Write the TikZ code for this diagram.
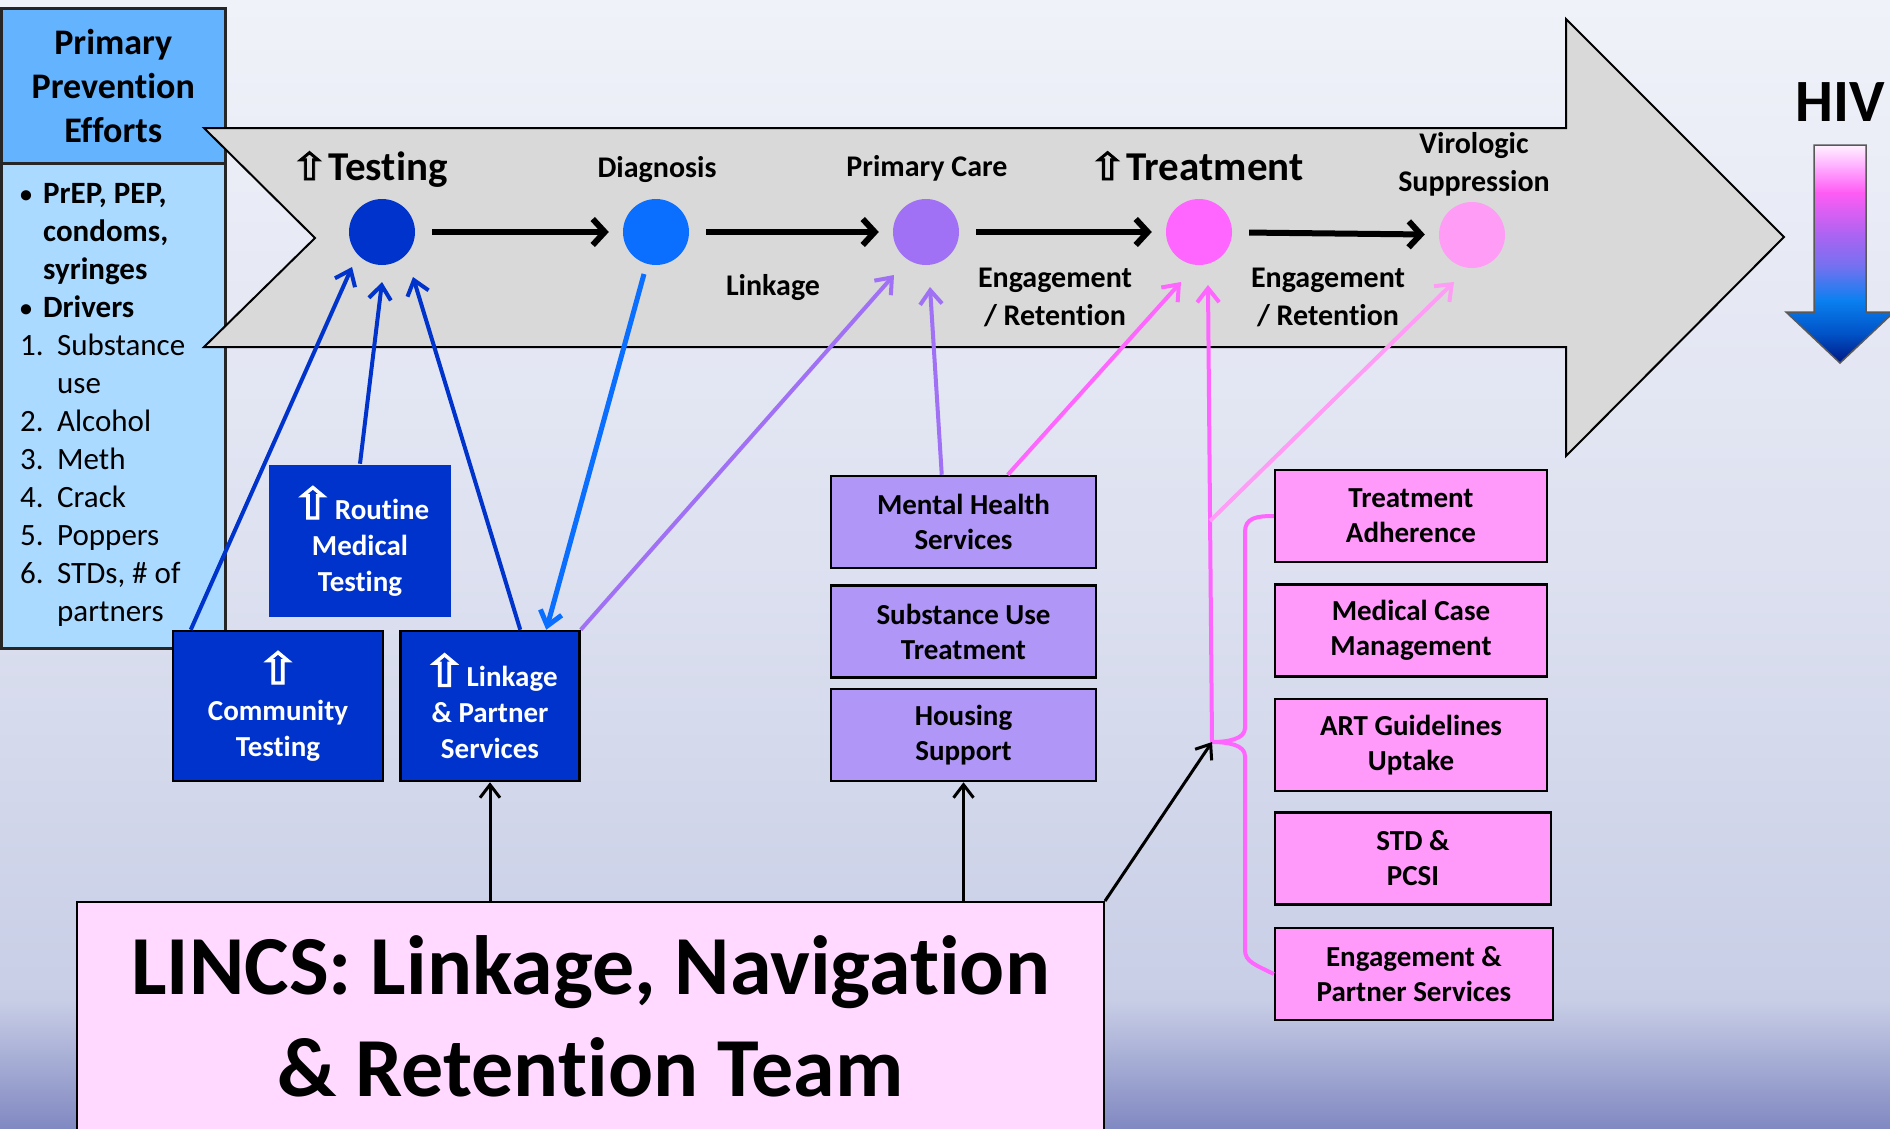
\documentclass[tikz,border=0pt]{standalone}
\usepackage{fontspec}
\setmainfont{Carlito}[Ligatures=CommonOff]
\newfontfamily\lcSymFont{DejaVu Sans}[FakeBold=2.5, FakeStretch=1.2]
\usepackage{tikz}
\usetikzlibrary{
  arrows.meta,
  positioning,
  calc
}
\definecolor{lcTest}{HTML}{0033CC}
\definecolor{lcDiag}{HTML}{0A6EFF}
\definecolor{lcCare}{HTML}{A070F5}
\definecolor{lcTreat}{HTML}{FF66FF}
\definecolor{lcSupp}{HTML}{FF9CF6}
\definecolor{lcPurple}{HTML}{B096F6}
\definecolor{lcPink}{HTML}{FF99FA}
\definecolor{lcLincs}{HTML}{FFD9FF}
\definecolor{lcHead}{HTML}{63B3FF}
\definecolor{lcList}{HTML}{AADAFF}
\definecolor{lcChev}{HTML}{D9D9D9}
\definecolor{lcBgA}{HTML}{F0F2F9}
\definecolor{lcBgB}{HTML}{DDE1F0}
\definecolor{lcBgC}{HTML}{C8CEE6}
\definecolor{lcBgD}{HTML}{8189C2}
\definecolor{lcHivA}{HTML}{FFF4FF}
\definecolor{lcHivB}{HTML}{FFA8FF}
\definecolor{lcHivC}{HTML}{FF5CF4}
\definecolor{lcHivD}{HTML}{B063F2}
\definecolor{lcHivE}{HTML}{6F72F0}
\definecolor{lcHivF}{HTML}{0A80F0}
\definecolor{lcHivG}{HTML}{0050C4}
\definecolor{lcHivH}{HTML}{00127E}
\newcommand{\upsym}[1]{{\lcSymFont\mdseries\fontsize{#1}{#1}\selectfont ⇧}}
\newcommand{\lcbullet}{\makebox[23pt][l]{\raisebox{1pt}{\fontsize{24}{24}\selectfont\textbullet}}}
\tikzset{
  pphead/.style={
    draw=black!85, line width=2.5pt, fill=lcHead, inner sep=0pt, align=center,
    font=\fontsize{36}{44}\selectfont\bfseries
  },
  ppbody/.style={draw=black!85, line width=2.5pt, fill=lcList, inner sep=0pt},
  listtext/.style={inner sep=0pt, align=left, font=\fontsize{31}{38}\selectfont},
  chevron/.style={draw=black, line width=2pt, fill=lcChev, line join=miter},
  sphere/.style={circle, minimum size=66pt, inner sep=0pt, fill=#1},
  stagelbl/.style={inner sep=0pt, align=center, font=\fontsize{30}{38}\selectfont\bfseries},
  biglbl/.style={inner sep=0pt, font=\fontsize{41}{49}\selectfont\bfseries},
  bluebox/.style={
    draw=black, line width=2.5pt, fill=lcTest, text=white, inner sep=0pt,
    align=center, font=\fontsize{29}{36}\selectfont\bfseries
  },
  purplebox/.style={
    draw=black, line width=2.5pt, fill=lcPurple, inner sep=0pt, align=center,
    minimum width=265pt, minimum height=92pt, font=\fontsize{29}{35}\selectfont\bfseries
  },
  pinkbox/.style={
    draw=black, line width=2.5pt, fill=lcPink, inner sep=0pt, align=center,
    minimum width=272pt, minimum height=92pt, font=\fontsize{29}{35}\selectfont\bfseries
  },
  lincsbox/.style={
    draw=black, line width=2pt, fill=lcLincs, inner sep=0pt, align=center,
    minimum width=1027pt, minimum height=228pt, font=\fontsize{84}{102}\selectfont\bfseries
  },
  flowarrow/.style={-{Straight Barb[length=12pt,width=26pt]}, line width=6pt},
  linkarrow/.style={-{Straight Barb[length=14pt,width=22pt]}, line width=4pt, draw=#1},
  teamarrow/.style={-{Straight Barb[length=13pt,width=20pt]}, line width=3pt, draw=black},
  bracepath/.style={line width=4pt, draw=lcTreat}
}

\begin{document}
\begin{tikzpicture}[x=1pt, y=-1pt]
  \useasboundingbox (0,0) rectangle (1890,1128);
  % background
  \shade[top color=lcBgA, bottom color=lcBgB] (0,0) rectangle (1890,561);
  \shade[top color=lcBgB, bottom color=lcBgC] (0,560) rectangle (1890,1001);
  \shade[top color=lcBgC, bottom color=lcBgD] (0,1000) rectangle (1890,1128);

  % primary prevention panel
  \node[pphead, minimum width=224pt, minimum height=155pt, anchor=north west] (ppHead) at (0,7) {Primary\\Prevention\\Efforts};
  \node[ppbody, minimum width=224pt, minimum height=485pt, anchor=north west] (ppBody) at (0,162) {};
  \node[listtext, anchor=north west] (ppList) at (20,183) {%
    \textbf{\lcbullet PrEP, PEP,}\\
    \textbf{\hspace*{23pt}condoms,}\\
    \textbf{\hspace*{23pt}syringes}\\
    \textbf{\lcbullet Drivers}\\
    \makebox[37pt][l]{1.}Substance\\
    \hspace*{37pt}use\\
    \makebox[37pt][l]{2.}Alcohol\\
    \makebox[37pt][l]{3.}Meth\\
    \makebox[37pt][l]{4.}Crack\\
    \makebox[37pt][l]{5.}Poppers\\
    \makebox[37pt][l]{6.}STDs, \# of\\
    \hspace*{37pt}partners};

  % big chevron
  \draw[chevron] (204,128) -- (1566,128) -- (1566,19) -- (1784,237) -- (1566,456)
    -- (1566,347) -- (204,347) -- (315,238) -- cycle;

  % HIV arrow
  \node[inner sep=0pt, anchor=base, font=\fontsize{60}{60}\selectfont\bfseries] (hiv) at (1840,121) {HIV};
  \begin{scope}
    \clip (1814,145) -- (1866,145) -- (1866,312) -- (1894,312) -- (1840,363) -- (1786,312) -- (1814,312) -- cycle;
    \shade[top color=lcHivA, bottom color=lcHivB] (1780,144) rectangle (1900,169);
    \shade[top color=lcHivB, bottom color=lcHivC] (1780,168) rectangle (1900,193);
    \shade[top color=lcHivC, bottom color=lcHivD] (1780,192) rectangle (1900,233);
    \shade[top color=lcHivD, bottom color=lcHivE] (1780,232) rectangle (1900,269);
    \shade[top color=lcHivE, bottom color=lcHivF] (1780,268) rectangle (1900,301);
    \shade[top color=lcHivF, bottom color=lcHivG] (1780,300) rectangle (1900,336);
    \shade[top color=lcHivG, bottom color=lcHivH] (1780,335) rectangle (1900,366);
  \end{scope}
  \draw[line width=1.5pt, draw=black!65] (1814,145) -- (1866,145) -- (1866,312) -- (1894,312)
    -- (1840,363) -- (1786,312) -- (1814,312) -- cycle;

  % care stages
  \node[sphere=lcTest] (sTest) at (382,232) {};
  \node[sphere=lcDiag] (sDiag) at (656,232) {};
  \node[sphere=lcCare] (sCare) at (926,232) {};
  \node[sphere=lcTreat] (sTreat) at (1199,232) {};
  \node[sphere=lcSupp] (sVir) at (1472,235) {};

  \node[biglbl, anchor=base] (lTest) at (369,180) {\upsym{38}Testing};
  \node[stagelbl, anchor=base] (lDiag) at (657,177) {Diagnosis};
  \node[stagelbl, anchor=base] (lCare) at (927,176) {Primary Care};
  \node[biglbl, anchor=base] (lTreat) at (1196,180) {\upsym{38}Treatment};
  \node[stagelbl, anchor=north] (lVir) at (1474,132) {Virologic\\Suppression};

  \draw[flowarrow, shorten <=17pt, shorten >=14pt] (sTest) -- (sDiag);
  \draw[flowarrow, shorten <=17pt, shorten >=14pt] (sDiag) -- (sCare);
  \draw[flowarrow, shorten <=17pt, shorten >=14pt] (sCare) -- (sTreat);
  \draw[flowarrow, shorten <=17pt, shorten >=14pt] (sTreat) -- (sVir);

  \node[stagelbl, anchor=base] (lLink) at (773,295) {Linkage};
  \node[stagelbl, anchor=north] (lEng1) at (1055,268) {Engagement\\/ Retention};
  \node[stagelbl, anchor=north] (lEng2) at (1328,268) {Engagement\\/ Retention};

  % testing boxes
  \node[bluebox, draw=none, minimum width=182pt, minimum height=152pt] (rout) at (360,541) {\upsym{44}Routine\\Medical\\Testing};
  \node[bluebox, minimum width=210pt, minimum height=150pt] (comm) at (278,706) {\upsym{44}\\Community\\Testing};
  \node[bluebox, minimum width=179pt, minimum height=150pt, right=15pt of comm] (lnk) {\upsym{44}Linkage\\\& Partner\\Services};

  % support services
  \node[purplebox] (mh) at (963.5,522) {Mental Health\\Services};
  \node[purplebox, below=15pt of mh] (sut) {Substance Use\\Treatment};
  \node[purplebox, below=9pt of sut] (hous) {Housing\\Support};

  % treatment services
  \node[pinkbox] (ta) at (1411,516) {Treatment\\Adherence};
  \node[pinkbox, below=20pt of ta.south west, anchor=north west] (mcm) {Medical Case\\Management};
  \node[pinkbox, below=20pt of mcm.south west, anchor=north west] (art) {ART Guidelines\\Uptake};
  \node[pinkbox, minimum width=276pt, below=19pt of art.south west, anchor=north west] (std) {STD \&\\PCSI};
  \node[pinkbox, minimum width=278pt, below=21pt of std.south west, anchor=north west] (eps) {Engagement \&\\Partner Services};

  % team
  \node[lincsbox] (lincs) at (590.5,1016) {LINCS: Linkage, Navigation\\\& Retention Team};

  % brace round the treatment services
  \coordinate (bTip) at (1212,742);
  \coordinate (bFork) at (1210,521);
  \draw[bracepath] (ta.west) .. controls (1256,516) and (1245,518) .. (1245,532) -- (1245,728)
    .. controls (1245,739) and (1228,742) .. (bTip)
    .. controls (1228,742) and (1245,745) .. (1245,756) -- (1245,950)
    .. controls (1245,962) and (1256,965) .. (eps.west);

  % connectors
  \draw[linkarrow=lcTest] ($(comm.north west)+(19,0)$) -- ($(sTest)+(-30,35)$);
  \draw[linkarrow=lcTest] (rout.north) -- ($(sTest)+(0,50)$);
  \draw[linkarrow=lcTest] ($(lnk.north west)+(121,0)$) -- ($(sTest)+(31,45)$);
  \draw[linkarrow=lcDiag, line width=5pt] ($(sDiag)+(-12,42)$) -- ($(lnk.north west)+(147,0)$);
  \draw[linkarrow=lcCare] (lnk.north east) -- ($(sCare)+(-32,43)$);
  \draw[linkarrow=lcCare] ($(mh.north west)+(112,0)$) -- ($(sCare)+(4,55)$);
  \draw[linkarrow=lcTreat] ($(mh.north west)+(178,0)$) -- ($(sTreat)+(-18,50)$);
  \draw[linkarrow=lcTreat] (bTip) -- ($(sTreat)+(9,53)$);
  \draw[linkarrow=lcSupp] (bFork) -- ($(sVir)+(-18,47)$);

  \draw[teamarrow] (lnk.south |- lincs.north) -- (lnk.south);
  \draw[teamarrow] (hous.south |- lincs.north) -- (hous.south);
  \draw[teamarrow] (lincs.north east) -- (bTip);
\end{tikzpicture}
\end{document}
